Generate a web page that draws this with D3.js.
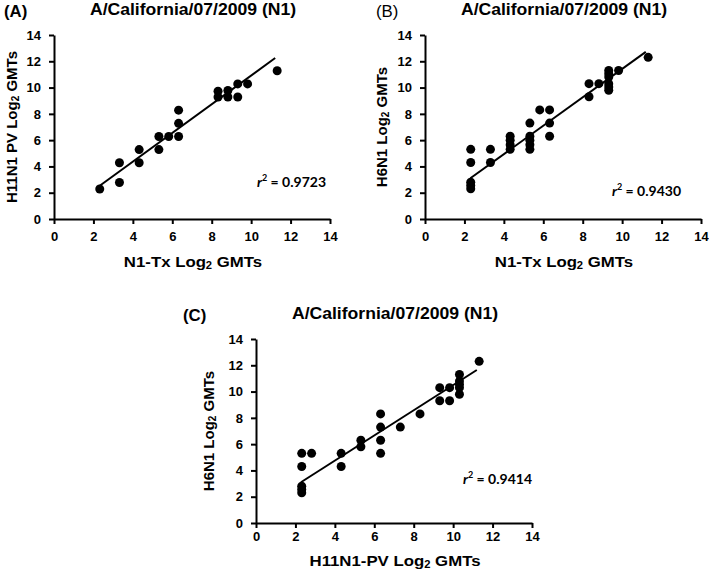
<!DOCTYPE html>
<html><head><meta charset="utf-8">
<script src="https://cdn.jsdelivr.net/npm/d3@7"></script>
<style>body{margin:0;background:#fff}svg{display:block}</style>
</head><body><svg id="c" width="709" height="570"></svg>
<script>
// ---------- data ----------
const chartTitle = "A/California/07/2009 (N1)";
const axisTicks = [0, 2, 4, 6, 8, 10, 12, 14];
const panelLetters = ["(A)", "(B)", "(C)"];
const r2Values = ["0.9723", "0.9430", "0.9414"];
const xTitles = ["N1-Tx", "N1-Tx", "H11N1-PV"];
const yTitles = ["H11N1 PV", "H6N1", "H6N1"];

const xA = [2.32,3.32,3.32,4.32,4.32,5.32,5.32,5.82,6.32,6.32,6.32,8.32,8.32,8.82,8.82,9.32,9.32,9.82,11.32];
const yA = [2.28,4.28,2.78,5.28,4.28,6.28,5.28,6.28,8.28,7.28,6.28,9.72,9.28,9.78,9.28,10.28,9.28,10.28,11.28];

const xB = [2.32,2.32,2.32,2.32,2.32,3.32,3.32,4.32,4.32,4.32,4.32,5.32,5.32,5.32,5.32,5.32,5.82,6.32,6.32,6.32,8.32,8.32,8.82,9.32,9.32,9.32,9.32,9.32,9.32,9.82,11.32];
const yB = [5.3,4.3,2.8,2.55,2.3,5.3,4.3,6.3,6.0,5.65,5.3,7.3,6.3,6.0,5.65,5.3,8.3,8.3,7.3,6.3,10.3,9.3,10.3,11.3,11.05,10.8,10.3,10.05,9.8,11.3,12.3];

const xC = [2.32,2.32,2.32,2.32,2.32,2.82,4.32,4.32,5.32,5.32,6.32,6.32,6.32,6.32,7.32,8.32,9.32,9.32,9.82,9.82,10.32,10.32,10.32,10.32,10.32,11.32];
const yC = [5.3,4.3,2.8,2.55,2.3,5.3,5.3,4.3,6.3,5.8,8.3,7.3,6.3,5.3,7.3,8.3,10.3,9.3,10.3,9.3,11.3,10.8,10.55,10.3,9.8,12.3];

// fitted regression lines, as [x, y] in data units
const fitA = [[2.25, 2.45], [11.22, 12.25]];
const fitB = [[2.3, 3.1], [11.2, 12.72]];
const fitC = [[2.28, 3.1], [11.2, 11.64]];

// ---------- layout ----------
const FONT = '"Liberation Sans", Arial, Helvetica, sans-serif';
const panels = [
  {xs: xA, ys: yA, fit: fitA, left: 54,  top: 35,  letterX: 4,   letterBold: true,  xPad: 8, xTitleDy: 48, r2dx: 203, r2dy: 32, ylx: 12},
  {xs: xB, ys: yB, fit: fitB, left: 425, top: 35,  letterX: 376, letterBold: false, xPad: 8, xTitleDy: 48, r2dx: 187, r2dy: 23, ylx: 382},
  {xs: xC, ys: yC, fit: fitC, left: 256, top: 339, letterX: 183, letterBold: true,  xPad: 4, xTitleDy: 43, r2dx: 207, r2dy: 39, ylx: 209}
];
const PW = 276, PH = 184;

const svg = d3.select("#c");

panels.forEach((p, i) => {
  const x = d3.scaleLinear().domain([0, 14]).range([p.left, p.left + PW]);
  const y = d3.scaleLinear().domain([0, 14]).range([p.top + PH, p.top]);
  const g = svg.append("g");

  // title
  const cx = p.left + PW / 2 + 1;
  g.append("text")
    .attr("transform", `translate(${cx},${p.top - 20}) scale(1.1,1)`)
    .attr("text-anchor", "middle").attr("font-family", FONT)
    .attr("font-size", 16).attr("font-weight", "bold").text(chartTitle);
  g.append("text")
    .attr("transform", `translate(${p.letterX},${p.top - 18}) scale(1.05,1)`)
    .attr("font-family", FONT).attr("font-size", 16)
    .attr("font-weight", p.letterBold ? "bold" : "normal").text(panelLetters[i]);

  // axes
  const ax = g.append("g").attr("transform", `translate(0,${y(0)})`)
    .call(d3.axisBottom(x).tickValues(axisTicks).tickSize(5).tickSizeOuter(0).tickPadding(p.xPad));
  const ay = g.append("g").attr("transform", `translate(${x(0)},0)`)
    .call(d3.axisLeft(y).tickValues(axisTicks).tickSize(5).tickSizeOuter(0).tickPadding(8));
  [ax, ay].forEach(a => {
    a.select(".domain").attr("stroke", "#000").attr("stroke-width", 2);
    a.selectAll(".tick line").attr("stroke", "#000").attr("stroke-width", 2);
    a.selectAll(".tick text").attr("font-family", FONT).attr("font-size", 13)
      .attr("font-weight", "bold").attr("fill", "#000");
  });

  // axis titles
  const xt = g.append("text")
    .attr("transform", `translate(${cx},${y(0) + p.xTitleDy}) scale(1.12,1)`)
    .attr("text-anchor", "middle").attr("font-family", FONT)
    .attr("font-size", 15).attr("font-weight", "bold");
  xt.append("tspan").text(xTitles[i] + " Log");
  xt.append("tspan").attr("font-size", 10).attr("dy", 2).text("2");
  xt.append("tspan").attr("dy", -2).text(" GMTs");

  const yt = g.append("text")
    .attr("transform", `translate(${p.ylx + 5},${(y(0) + y(14)) / 2}) rotate(-90)`)
    .attr("text-anchor", "middle").attr("font-family", FONT)
    .attr("font-size", 15).attr("font-weight", "bold");
  yt.append("tspan").text(yTitles[i] + " Log");
  yt.append("tspan").attr("font-size", 10).attr("dy", 2).text("2");
  yt.append("tspan").attr("dy", -2).text(" GMTs");

  // regression line
  g.append("path").datum(p.fit)
    .attr("d", d3.line().x(d => x(d[0])).y(d => y(d[1])))
    .attr("stroke", "#000").attr("stroke-width", 2).attr("fill", "none");

  // points
  g.selectAll("circle").data(p.xs.map((v, k) => [v, p.ys[k]])).join("circle")
    .attr("cx", d => x(d[0])).attr("cy", d => y(d[1])).attr("r", 4.5).attr("fill", "#000");

  // r^2 label
  const rt = g.append("text")
    .attr("x", p.left + p.r2dx).attr("y", y(0) - p.r2dy)
    .attr("font-family", "Lato, " + FONT).attr("font-size", 14).attr("font-weight", "bold");
  rt.append("tspan").attr("font-style", "italic").text("r");
  rt.append("tspan").attr("font-size", 9).attr("dy", -6).text("2");
  rt.append("tspan").attr("dy", 6).text(" = " + r2Values[i]);
});
</script></body></html>
